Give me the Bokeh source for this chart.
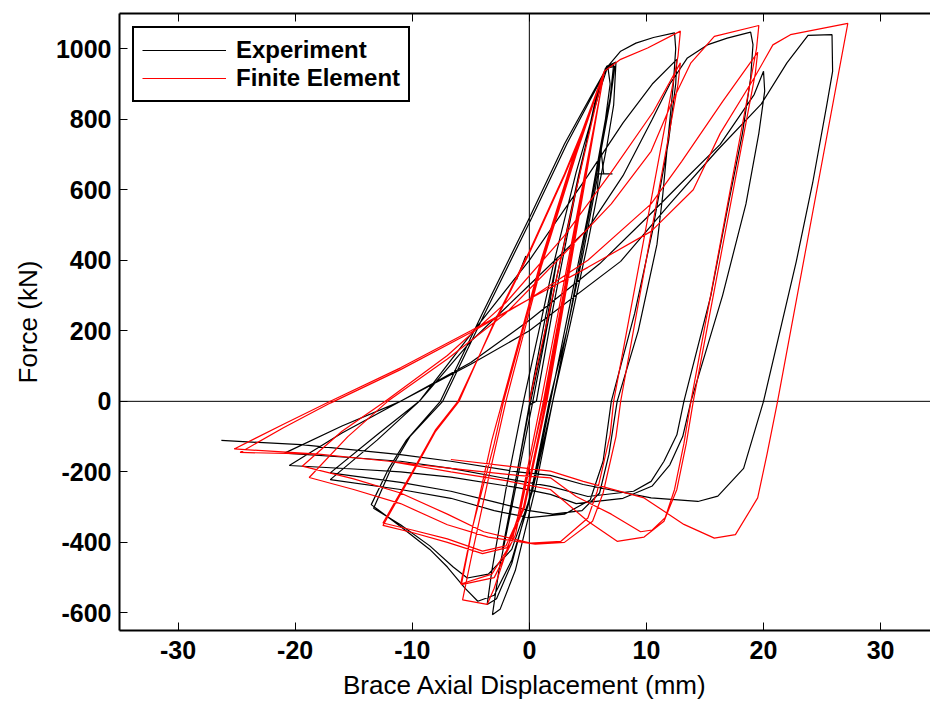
from bokeh.plotting import figure
from bokeh.models import Range1d, LinearAxis, Span, FixedTicker, Legend, LegendItem
from bokeh.embed import file_html
from bokeh.resources import INLINE

# ---------------- Experiment (black): displacement (mm), force (kN) ----------------
exp_e1_x = [0.0, 1.2, 2.4, 1.3, 0.0, -1.2, -2.3, -1.2, 0.0]
exp_e1_y = [0, 210, 410, 190, -20, -230, -420, -230, -10]
exp_e2_x = [0.0, 0.6, 2.0, 4.0, 5.8, 6.6, 7.4, 7.2, 6.6, 5.0, 3.5, 2.0, 0.5, -1.2, -2.5, -3.15]
exp_e2_y = [-10, 0, 260, 600, 880, 950, 962, 840, 720, 450, 220, 0, -250, -480, -590, -605]
exp_e3_x = [-3.15, -2.6, -1.5, 0.3, 2.2, 4.2, 5.9, 6.5, 7.2, 6.9, 6.3, 6.1, 5.9, 4.6, 3.2, 1.7, 0.2, -1.5, -2.8, -3.6]
exp_e3_y = [-605, -480, -300, 0, 330, 640, 880, 945, 955, 860, 760, 718, 650, 420, 200, 0, -250, -460, -560, -576]
exp_c1a_x = [-3.6, -3.2, -2.0, -0.5, 2.0, 4.0, 6.0, 6.7, 6.9, 6.5, 5.2, 3.5, 1.8, 0.3, -1.5, -3.0, -4.4, -5.5, -7.0, -8.5, -11.0, -13.5]
exp_c1a_y = [-576, -480, -250, 0, 380, 650, 880, 950, 900, 800, 560, 280, 0, -250, -450, -550, -567, -530, -470, -420, -355, -293]
exp_c1b_x = [-13.5, -12.0, -10.5, -7.6, -4.0, 0.0, 3.0, 5.5, 6.6, 7.3, 6.9, 5.5, 3.5, 2.0, 0.3, -1.5, -3.5, -5.3, -6.5, -8.5, -11.0, -13.3]
exp_c1b_y = [-293, -190, -110, 0, 250, 520, 730, 880, 945, 950, 850, 600, 250, 0, -250, -420, -490, -501, -470, -410, -350, -303]
exp_c2a_x = [-13.3, -11.8, -10.2, -7.4, -3.8, 0.2, 3.2, 5.6, 6.7, 7.8, 9.1, 10.6, 12.4, 12.5, 12.3, 11.8, 11.4, 10.9, 9.3, 7.5, 6.8, 6.0, 4.5, 2.0, 0.0, -3.0, -6.7, -11.0, -17.0]
exp_c2a_y = [-303, -190, -100, 0, 250, 520, 730, 880, 950, 993, 1016, 1032, 1045, 1000, 900, 729, 587, 445, 200, 0, -150, -260, -310, -320, -310, -285, -255, -230, -203]
exp_c2b_x = [-17.0, -13.0, -9.4, -5.0, 0.0, 5.0, 8.0, 10.5, 12.6, 12.5, 11.9, 10.5, 9.0, 7.0, 6.3, 5.2, 3.0, 0.0, -3.0, -6.7, -11.0, -17.0]
exp_c2b_y = [-203, -95, 0, 190, 400, 640, 790, 900, 970, 900, 740, 480, 250, 0, -170, -280, -320, -330, -310, -275, -250, -222]
exp_c3a_x = [-17.0, -13.0, -9.4, -5.0, 0.0, 5.0, 8.0, 10.5, 12.0, 13.5, 15.2, 16.9, 18.9, 19.1, 18.9, 18.2, 17.0, 15.5, 13.2, 12.6, 11.5, 10.4, 8.9, 5.0, 1.8, -1.0, -6.7, -11.0, -15.0, -20.9]
exp_c3a_y = [-222, -110, 0, 170, 330, 490, 640, 800, 900, 974, 1011, 1030, 1047, 1012, 917, 760, 560, 300, 0, -95, -170, -227, -255, -270, -241, -225, -190, -170, -160, -147]
exp_c3b_x = [-20.9, -16.0, -11.0, -5.0, 0.0, 6.0, 10.0, 13.0, 16.3, 19.2, 20.0, 20.1, 19.6, 18.5, 16.5, 13.8, 13.1, 12.0, 10.5, 8.0, 4.0, 1.8, -1.0, -6.7, -11.0, -15.0, -20.5]
exp_c3b_y = [-147, -70, 0, 110, 230, 390, 520, 620, 729, 870, 936, 880, 760, 560, 300, 0, -100, -180, -240, -275, -290, -264, -245, -215, -200, -192, -182]
exp_c4_x = [-20.5, -16.0, -11.0, -5.0, 0.0, 7.8, 12.0, 16.0, 19.8, 22.0, 23.8, 25.85, 25.9, 25.4, 24.2, 22.8, 21.2, 20.0, 18.3, 16.1, 14.4, 10.4, 4.6, 1.8, -1.0, -6.7, -11.0, -19.5, -26.3]
exp_c4_y = [-182, -90, 0, 105, 200, 397, 560, 710, 843, 960, 1038, 1040, 936, 840, 620, 397, 170, 0, -190, -269, -284, -274, -236, -210, -200, -170, -151, -123, -111]
exp_blip_x = [-1.1, -0.8, -0.3]
exp_blip_y = [345, 370, 412]
exp_spike_x = [5.8, 6.1, 6.35]
exp_spike_y = [600, 718, 645]
exp_tee_x = [5.8, 7.1]
exp_tee_y = [645, 645]

# ---------------- Finite Element (red) ----------------
fe_r1_x = [0.0, 2.0, 4.0, 5.6, 6.4, 6.1, 1.0, -1.0, -3.0, -3.6, -5.7]
fe_r1_y = [0, 300, 600, 830, 936, 880, 0, -330, -530, -576, -563]
fe_r2_x = [-5.7, -5.0, -3.5, -2.0, 1.0, 4.0, 6.4, 6.0, 1.2, -1.2, -3.0, -5.8]
fe_r2_y = [-563, -450, -220, 0, 380, 700, 936, 860, 0, -380, -500, -520]
fe_r3_x = [-5.8, -4.8, -3.0, -2.2, 1.0, 4.0, 6.4, 6.0, 1.3, -1.5, -3.2, -5.86]
fe_r3_y = [-520, -350, -120, 0, 390, 710, 936, 860, 0, -400, -490, -518]
fe_r4_x = [-5.86, -5.0, -3.2, -2.3, 1.0, 4.0, 6.4, 6.0, 1.4, -0.5, -2.0, -4.0, -7.0, -10.0, -12.5]
fe_r4_y = [-518, -380, -110, 0, 400, 720, 936, 860, 0, -300, -410, -425, -390, -365, -345]
fe_r5_x = [-12.5, -10.0, -8.0, -6.1, -3.0, 0.0, 3.0, 5.0, 6.4, 6.0, 1.5, -0.4, -1.9, -4.0, -7.0, -10.0, -12.5]
fe_r5_y = [-345, -200, -80, 0, 220, 420, 640, 800, 936, 860, 0, -300, -415, -432, -400, -372, -352]
fe_r6_x = [-12.5, -10.0, -8.0, -6.0, -3.0, 0.0, 3.0, 5.0, 6.4, 7.8, 10.1, 12.9, 12.7, 7.2, 6.9, 5.8, 5.0, 2.7, 0.1, -3.9, -7.0, -11.0, -15.0, -19.4]
fe_r6_y = [-352, -205, -85, 0, 225, 425, 645, 805, 936, 970, 1002, 1050, 980, 0, -95, -255, -331, -397, -402, -370, -320, -260, -220, -184]
fe_r7_x = [-19.4, -16.0, -12.3, -7.0, -2.0, 3.0, 7.0, 10.6, 12.9, 12.7, 7.8, 7.4, 6.3, 5.4, 3.0, 0.5, -3.5, -7.0, -11.0, -15.0, -18.8]
fe_r7_y = [-184, -85, 0, 130, 280, 470, 650, 822, 960, 900, 0, -100, -260, -340, -400, -405, -385, -350, -290, -250, -216]
fe_r8_x = [-18.8, -15.5, -12.1, -7.0, -2.0, 3.0, 7.0, 10.4, 12.2, 13.8, 15.8, 19.6, 19.4, 13.8, 13.2, 12.4, 11.6, 10.5, 9.5, 7.0, 4.0, 1.8, -1.0, -6.7, -12.0, -18.0, -24.7]
fe_r8_y = [-216, -100, 0, 120, 250, 420, 560, 709, 850, 960, 1035, 1066, 1000, 0, -120, -250, -330, -365, -370, -320, -270, -217, -210, -190, -170, -150, -145]
fe_r9_x = [-24.7, -21.0, -17.0, -11.0, -5.0, 0.0, 5.0, 10.4, 13.0, 16.5, 19.5, 19.3, 14.0, 13.4, 12.6, 11.5, 9.8, 7.5, 5.0, 1.8, -2.0, -6.7, -12.0, -18.0, -25.2]
fe_r9_y = [-145, -75, -5, 90, 195, 290, 400, 560, 680, 850, 990, 930, 0, -120, -250, -340, -385, -397, -340, -250, -225, -200, -170, -150, -135]
fe_r10_x = [-25.2, -21.0, -17.0, -11.0, -5.0, 0.0, 5.0, 10.4, 14.0, 16.3, 19.2, 20.8, 22.3, 27.2, 21.2, 20.3, 19.5, 17.6, 15.8, 13.2, 9.8, 4.6, 1.8, -6.7]
fe_r10_y = [-135, -65, 0, 95, 200, 290, 380, 482, 600, 760, 917, 1011, 1040, 1072, 0, -150, -274, -378, -388, -349, -274, -227, -198, -165]

x_ticks = [-30, -20, -10, 0, 10, 20, 30]
y_ticks = [-600, -400, -200, 0, 200, 400, 600, 800, 1000]

exp_x = exp_e1_x + exp_e2_x + exp_e3_x + exp_c1a_x + exp_c1b_x + exp_c2a_x + exp_c2b_x + exp_c3a_x + exp_c3b_x + exp_c4_x
exp_y = exp_e1_y + exp_e2_y + exp_e3_y + exp_c1a_y + exp_c1b_y + exp_c2a_y + exp_c2b_y + exp_c3a_y + exp_c3b_y + exp_c4_y
fe_x = fe_r1_x + fe_r2_x + fe_r3_x + fe_r4_x + fe_r5_x + fe_r6_x + fe_r7_x + fe_r8_x + fe_r9_x + fe_r10_x
fe_y = fe_r1_y + fe_r2_y + fe_r3_y + fe_r4_y + fe_r5_y + fe_r6_y + fe_r7_y + fe_r8_y + fe_r9_y + fe_r10_y

FONT = "Liberation Sans"

p = figure(width=930, height=703, output_backend="svg", toolbar_location=None,
           x_range=Range1d(-35, 34.26), y_range=Range1d(-650, 1100),
           min_border_left=119, min_border_right=0, min_border_top=13, min_border_bottom=73,
           outline_line_color=None, background_fill_color="white", border_fill_color="white")
p.xgrid.visible = False
p.ygrid.visible = False

for ax, ticks in ((p.xaxis[0], x_ticks), (p.yaxis[0], y_ticks)):
    ax.ticker = FixedTicker(ticks=ticks)
    ax.major_label_overrides = {t: str(t) for t in ticks}
    ax.major_tick_in = 8
    ax.major_tick_out = 0
    ax.minor_tick_line_color = None
    ax.axis_line_width = 2
    ax.axis_line_color = "black"
    ax.major_tick_line_color = "black"
    ax.major_tick_line_width = 1
    ax.major_label_text_font = FONT
    ax.major_label_text_font_style = "bold"
    ax.major_label_text_font_size = "25px"
    ax.major_label_text_color = "black"
    ax.axis_label_text_font = FONT
    ax.axis_label_text_font_style = "normal"
    ax.axis_label_text_font_size = "26px"
    ax.axis_label_text_color = "black"

p.xaxis.axis_label = "Brace Axial Displacement (mm)"
p.yaxis.axis_label = "Force (kN)"
p.xaxis.major_label_standoff = 10
p.yaxis.major_label_standoff = 8
p.xaxis.axis_label_standoff = 8
p.yaxis.axis_label_standoff = 10

top = LinearAxis(ticker=FixedTicker(ticks=x_ticks), major_tick_in=8, major_tick_out=0,
                 minor_tick_line_color=None, axis_line_width=2, axis_line_color="black",
                 major_tick_line_color="black",
                 major_label_text_color=None, major_label_text_font_size="8px",
                 major_label_standoff=0)
p.add_layout(top, "above")

p.add_layout(Span(location=0, dimension="height", line_color="black", line_width=1, level="underlay"))
p.add_layout(Span(location=0, dimension="width", line_color="black", line_width=1, level="underlay"))

r_exp = p.line(exp_x, exp_y, line_color="black", line_width=1.2)
p.line(exp_blip_x, exp_blip_y, line_color="black", line_width=1.2)
p.line(exp_spike_x, exp_spike_y, line_color="black", line_width=1.2)
p.line(exp_tee_x, exp_tee_y, line_color="black", line_width=1.2)
r_fe = p.line(fe_x, fe_y, line_color="#ff0000", line_width=1.2)

legend = Legend(items=[LegendItem(label="Experiment", renderers=[r_exp]),
                       LegendItem(label="Finite Element", renderers=[r_fe])],
                location="top_left", margin=13, padding=8, spacing=0,
                glyph_width=84, glyph_height=28, label_height=28, label_standoff=10,
                label_text_font=FONT, label_text_font_style="bold", label_text_font_size="24px",
                label_text_color="black",
                border_line_color="black", border_line_alpha=1.0, border_line_width=2,
                background_fill_color="white", background_fill_alpha=1)
p.add_layout(legend)

open("out.html", "w").write(file_html(p, INLINE))
